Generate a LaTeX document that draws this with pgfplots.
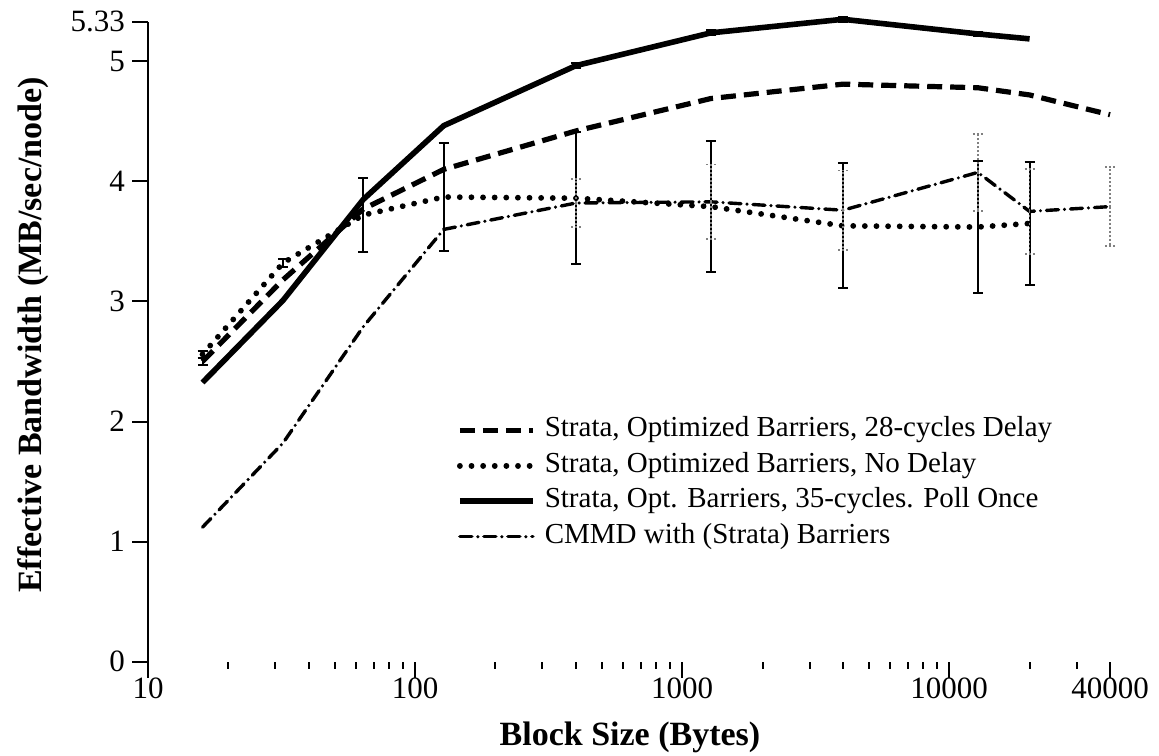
\documentclass[border=0pt]{standalone}
\usepackage{fontspec}
\setmainfont{Liberation Serif}
\usepackage{pgfplots}
\pgfplotsset{compat=1.18}
\begin{document}
\begin{tikzpicture}
\begin{axis}[
  scale only axis, width=481pt, height=320pt,
  xmode=log, xmin=10, xmax=40000, ymin=0, ymax=5.33,
  clip=false,
  axis x line=bottom, axis y line=left,
  x axis line style={draw=none},
  y axis line style={-, line width=1.3pt},
  xtick={10,100,1000,10000,40000},
  xticklabels={10,100,1000,10000,40000},
  minor xtick={20,30,40,50,60,70,80,90,200,300,400,500,600,700,800,900,2000,3000,4000,5000,6000,7000,8000,9000,20000,30000},
  ytick={0,1,2,3,4,5,5.33},
  yticklabels={0,1,2,3,4,5,5.33},
  tick align=outside,
  major tick length=8pt, minor tick length=3.5pt,
  tick style={line width=1pt, black},
  tick label style={font=\fontsize{15.5}{18}\selectfont},
  xticklabel style={yshift=3.5pt},
  every axis x label/.style={at={(rel axis cs:0.501,-0.1302)}, anchor=base},
  every axis y label/.style={at={(rel axis cs:-0.1102,0.5105)}, rotate=90, anchor=base},
  label style={font=\fontsize{17}{20}\selectfont\bfseries},
  xlabel={Block Size (Bytes)},
  ylabel={Effective Bandwidth (MB/sec/node)},
  legend cell align=left,
  legend style={draw=none, fill=none, inner sep=0pt, outer sep=0pt,
    at={(rel axis cs:0.3212,0.3859)}, anchor=north west,
    font=\fontsize{14.5}{17}\selectfont,
    row sep=3.25pt, column sep=4.5pt,
    nodes={inner sep=0pt, text height=11pt, text depth=3.5pt}},
  legend image code/.code={\draw[#1] (0pt,-0.5pt) -- (36.5pt,-0.5pt);},
]
% 28-cycles delay (dashed)
\addplot[black, line width=2.6pt, dash pattern=on 7.5pt off 4pt,
  error bars/.cd, y dir=both, y explicit,
  error bar style={solid, line width=1pt},
  error mark options={rotate=90, mark size=2.5pt, solid, line width=1pt}]
coordinates {
(16,2.50) +- (0,0.03)
(32,3.18)
(64,3.77)
(128,4.10)
(400,4.42)
(1280,4.69)
(4000,4.81)
(12800,4.78)
(20000,4.72)
(40000,4.555)
};
\addlegendentry{Strata, Optimized Barriers, 28-cycles Delay}
% No delay (dotted)
\addplot[black, line width=2.9pt, line cap=round, dash pattern=on 0.01pt off 5.8pt,
  error bars/.cd, y dir=both, y explicit,
  error bar style={solid, line width=1pt, line cap=butt},
  error mark options={rotate=90, mark size=2.5pt, solid, line width=1pt, line cap=butt}]
coordinates {
(16,2.56) +- (0,0.03)
(32,3.32) +- (0,0.03)
(64,3.72) +- (0,0.31)
(128,3.87) +- (0,0.45)
(400,3.86) +- (0,0.55)
(1280,3.79) +- (0,0.545)
(4000,3.63) +- (0,0.52)
(12800,3.62) +- (0,0.55)
(20000,3.65) +- (0,0.51)
};
\addlegendentry{Strata, Optimized Barriers, No Delay}
% 35-cycles poll once (solid)
\addplot[black, line width=2.8pt,
  error bars/.cd, y dir=both, y explicit,
  error bar style={solid, line width=1pt},
  error mark options={rotate=90, mark size=2.5pt, solid, line width=1pt}]
coordinates {
(16,2.325)
(32,3.008)
(64,3.85)
(128,4.464)
(400,4.964) +- (0,0.02)
(1280,5.237) +- (0,0.02)
(4000,5.35) +- (0,0.02)
(12800,5.228) +- (0,0.02)
(20000,5.187)
};
\addlegendentry{Strata, Opt. Barriers, 35-cycles. Poll Once}
% CMMD (dash-dot)
\addplot[black, line width=1.7pt, line cap=round, dash pattern=on 6pt off 3pt on 0pt off 3pt,
  error bars/.cd, y dir=both, y explicit,
  error bar style={gray, line width=0.8pt, line cap=butt, dash pattern=on 1pt off 1pt},
  error mark options={rotate=90, mark size=2.5pt, gray, line width=0.8pt, dash pattern=on 1pt off 1pt}]
coordinates {
(16,1.12)
(32,1.82)
(64,2.79)
(128,3.60)
(400,3.82) +- (0,0.2)
(1280,3.83) +- (0,0.31)
(4000,3.76) +- (0,0.33)
(12800,4.075) +- (0,0.32)
(20000,3.75) +- (0,0.355)
(40000,3.79) +- (0,0.33)
};
\addlegendentry{CMMD with (Strata) Barriers}
\end{axis}
\pgfresetboundingbox
\path[use as bounding box] (-74pt,-46.65pt) rectangle (505.5pt,330.85pt);
\end{tikzpicture}
\end{document}
